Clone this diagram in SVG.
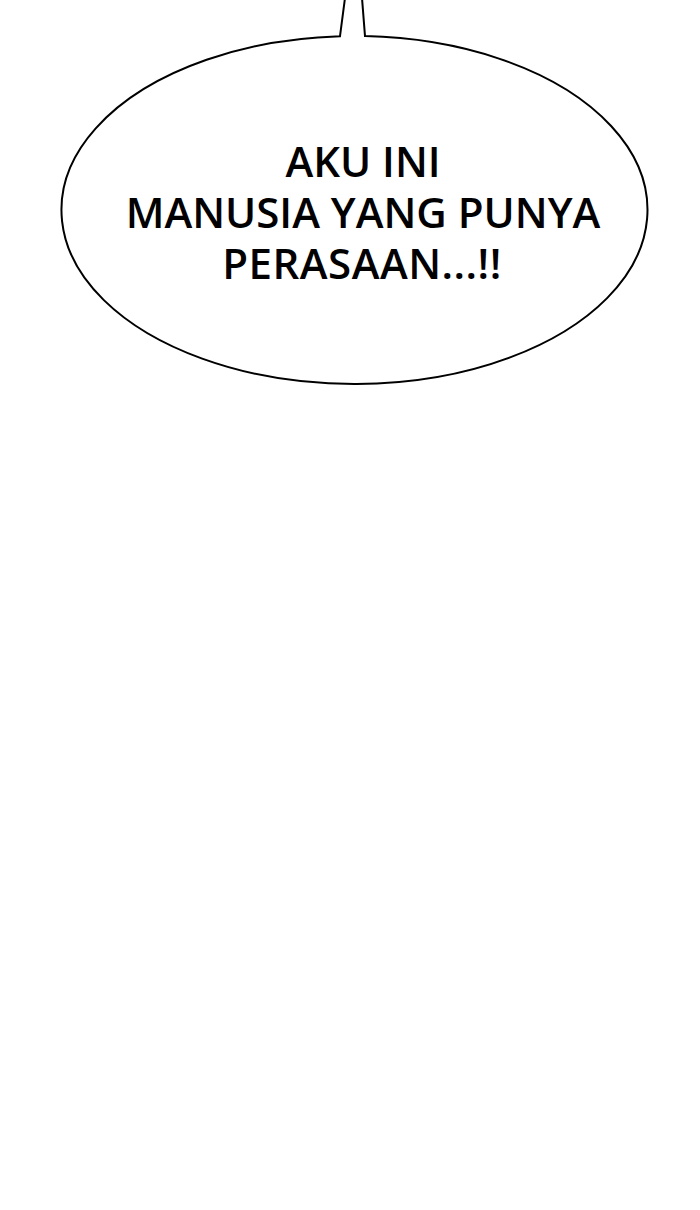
<svg xmlns="http://www.w3.org/2000/svg" width="700" height="1210" viewBox="0 0 700 1210">
<style>
.bubble{fill:#fff;stroke:#000;stroke-width:2}
.t{font-family:"Open Sans","Noto Sans",sans-serif;font-size:42px;font-weight:600;fill:#000;text-anchor:middle}
</style>
<rect width="700" height="1210" fill="#fff"/>
<g id="bubble">
<path class="bubble" d="M340,36.2 L345,-2 L362,-2 L365,36.1 A293,174 0 1 1 340,36.2 Z"/>
<text class="t" x="363" y="177">AKU INI</text>
<text class="t" x="363" y="228">MANUSIA YANG PUNYA</text>
<text class="t" x="362" y="279" letter-spacing="0.5">PERASAAN...!!</text>
</g>
</svg>
